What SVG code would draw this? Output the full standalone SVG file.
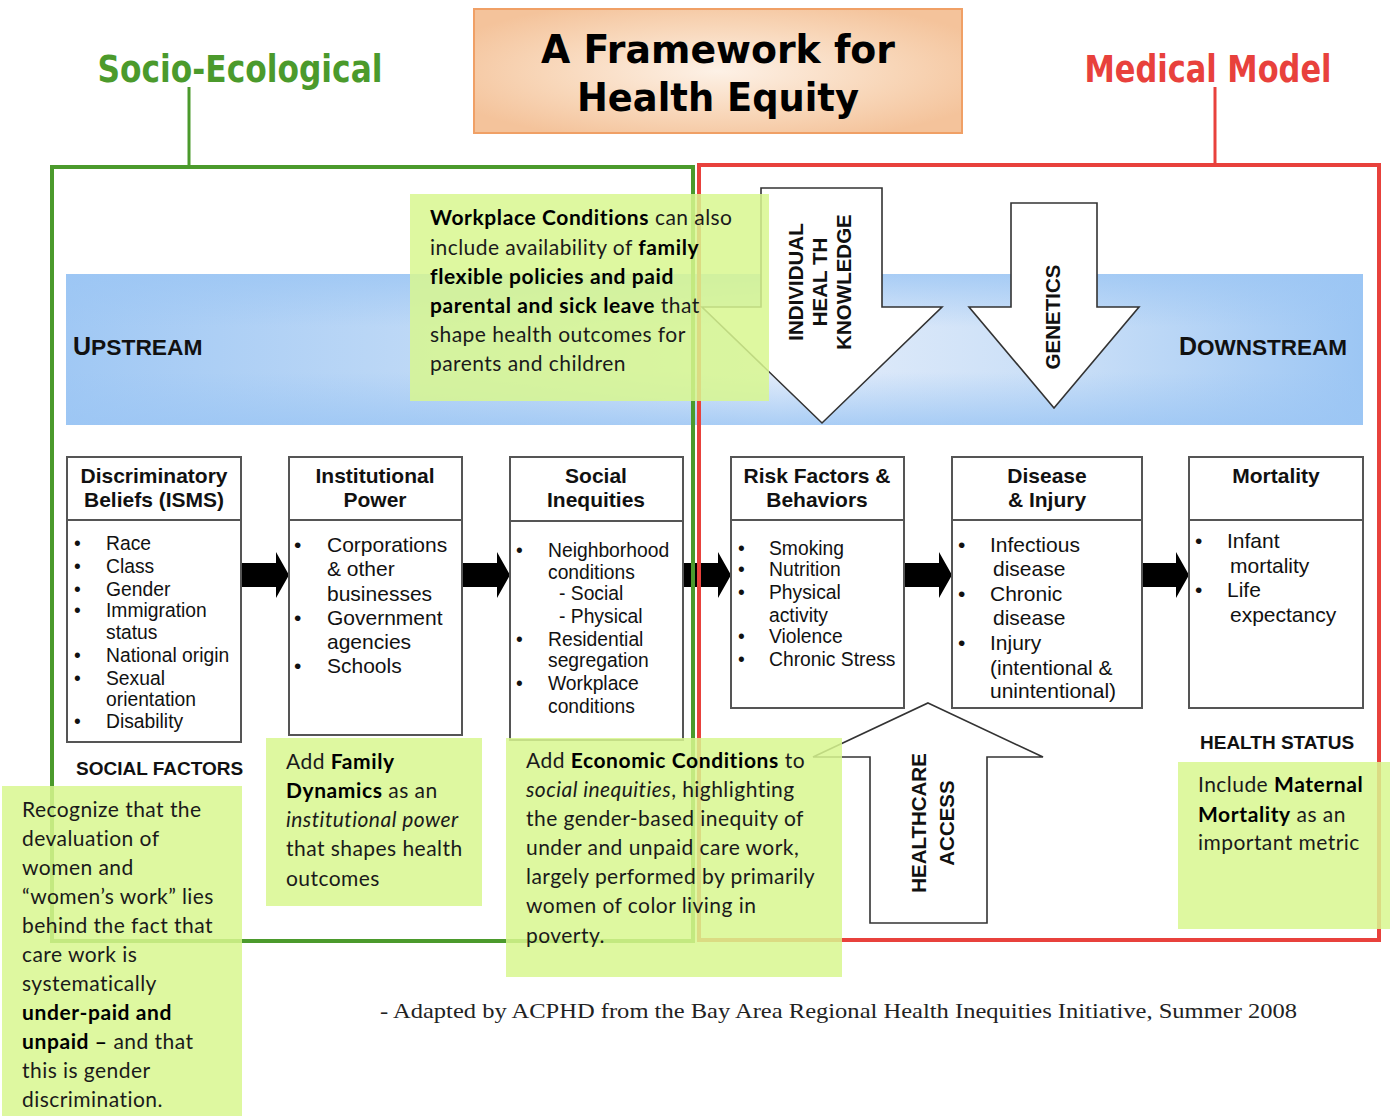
<svg xmlns="http://www.w3.org/2000/svg" width="1390" height="1116" viewBox="0 0 1390 1116">
<style>
.hdr{font-family:"Liberation Sans",Arial,sans-serif;font-weight:bold;font-size:21px;fill:#111;text-anchor:middle}
.li{font-family:"Liberation Sans",Arial,sans-serif;font-size:19.3px;fill:#111}
.lb{font-family:"Liberation Sans",Arial,sans-serif;font-size:21px;fill:#111}
.box{fill:#fff;stroke:#555;stroke-width:2}
.div{stroke:#555;stroke-width:2}
.barr{fill:#000}
.warr{fill:#fff;stroke:#333;stroke-width:1.6}
.vt{font-family:"Liberation Sans",Arial,sans-serif;font-weight:bold;font-size:20.5px;fill:#111;text-anchor:middle}
.cap{font-family:"Liberation Sans",Arial,sans-serif;font-weight:bold;font-size:19px;fill:#111}
.note{fill:rgb(216,247,143);opacity:0.85}
.nt{font-family:Lato,"Open Sans",sans-serif;font-size:21px;fill:#1a1a1a;letter-spacing:0.45px}
.b{font-weight:bold;fill:#000;letter-spacing:0.6px}
.i{font-style:italic}
</style>
<defs>
<linearGradient id="band" x1="0" y1="0" x2="1" y2="0">
<stop offset="0" stop-color="#a0c8f4"/>
<stop offset="0.35" stop-color="#c6ddf7"/>
<stop offset="0.55" stop-color="#e4edfa"/>
<stop offset="0.78" stop-color="#c8def7"/>
<stop offset="1" stop-color="#9cc6f4"/>
</linearGradient>
<linearGradient id="bandv" x1="0" y1="0" x2="0" y2="1">
<stop offset="0" stop-color="#9cc6f4" stop-opacity="0.8"/>
<stop offset="0.35" stop-color="#9cc6f4" stop-opacity="0"/>
<stop offset="0.65" stop-color="#9cc6f4" stop-opacity="0"/>
<stop offset="1" stop-color="#9cc6f4" stop-opacity="0.8"/>
</linearGradient>
<radialGradient id="title" cx="0.5" cy="0.5" r="0.6">
<stop offset="0" stop-color="#fdf1e6"/>
<stop offset="0.6" stop-color="#f8d6b8"/>
<stop offset="1" stop-color="#f4c39b"/>
</radialGradient>
</defs>

<g id="title-box">
<rect x="474" y="9" width="488" height="124" fill="url(#title)" stroke="#f0a066" stroke-width="2"/>
<text x="718" y="63" font-family="DejaVu Sans,sans-serif" font-weight="bold" font-size="39" text-anchor="middle" textLength="354" lengthAdjust="spacingAndGlyphs" fill="#000">A Framework for</text>
<text x="718" y="111" font-family="DejaVu Sans,sans-serif" font-weight="bold" font-size="39" text-anchor="middle" textLength="282" lengthAdjust="spacingAndGlyphs" fill="#000">Health Equity</text>
</g>

<g id="band-group">
<rect x="66" y="274" width="1297" height="151" fill="url(#band)"/>
<rect x="66" y="274" width="1297" height="151" fill="url(#bandv)"/>
<text x="73" y="355" font-family="Liberation Sans,Arial,sans-serif" font-weight="bold" fill="#111"><tspan font-size="25">U</tspan><tspan font-size="22.8">PSTREAM</tspan></text>
<text x="1179" y="355" font-family="Liberation Sans,Arial,sans-serif" font-weight="bold" fill="#111"><tspan font-size="25">D</tspan><tspan font-size="22.5">OWNSTREAM</tspan></text>
</g>

<g id="connectors">
<path class="barr" d="M241,563 H276 V552 L289,575 L276,598 V587 H241 Z"/>
<path class="barr" d="M462,563 H497 V552 L510,575 L497,598 V587 H462 Z"/>
<path class="barr" d="M683,563 H718 V552 L731,575 L718,598 V587 H683 Z"/>
<path class="barr" d="M904,563 H939 V552 L952,575 L939,598 V587 H904 Z"/>
<path class="barr" d="M1142,563 H1176 V552 L1189,575 L1176,598 V587 H1142 Z"/>
</g>

<g id="socio-ecological">
<text x="240" y="82" font-family="DejaVu Sans,sans-serif" font-weight="bold" font-size="37" text-anchor="middle" textLength="285" lengthAdjust="spacingAndGlyphs" fill="#4b9a2c">Socio-Ecological</text>
<line x1="189" y1="87" x2="189" y2="167" stroke="#4b9a2c" stroke-width="3"/>
<rect x="52" y="167" width="641" height="774" fill="none" stroke="#4b9a2c" stroke-width="4"/>
</g>

<g id="medical-model">
<text x="1208" y="82" font-family="DejaVu Sans,sans-serif" font-weight="bold" font-size="37" text-anchor="middle" textLength="247" lengthAdjust="spacingAndGlyphs" fill="#e8413c">Medical Model</text>
<line x1="1215" y1="87" x2="1215" y2="165" stroke="#e8413c" stroke-width="3"/>
<rect x="699" y="165" width="680" height="775" fill="none" stroke="#e8413c" stroke-width="4"/>
</g>

<g id="box-discriminatory">
<rect class="box" x="67" y="457" width="174" height="285"/>
<line class="div" x1="67" y1="520" x2="241" y2="520"/>
<text class="hdr" x="154" y="483">Discriminatory</text>
<text class="hdr" x="154" y="507">Beliefs (ISMS)</text>
<g class="li">
<text x="74" y="550">•</text><text x="106" y="550">Race</text>
<text x="74" y="573">•</text><text x="106" y="573">Class</text>
<text x="74" y="596">•</text><text x="106" y="596">Gender</text>
<text x="74" y="617">•</text><text x="106" y="617">Immigration</text>
<text x="106" y="639">status</text>
<text x="74" y="662">•</text><text x="106" y="662">National origin</text>
<text x="74" y="685">•</text><text x="106" y="685">Sexual</text>
<text x="106" y="706">orientation</text>
<text x="74" y="728">•</text><text x="106" y="728">Disability</text>
</g>
</g>

<g id="box-institutional">
<rect class="box" x="289" y="457" width="173" height="278"/>
<line class="div" x1="289" y1="520" x2="462" y2="520"/>
<text class="hdr" x="375" y="483">Institutional</text>
<text class="hdr" x="375" y="507">Power</text>
<g class="lb">
<text x="294" y="552">•</text><text x="327" y="552">Corporations</text>
<text x="327" y="576">&amp; other</text>
<text x="327" y="601">businesses</text>
<text x="294" y="625">•</text><text x="327" y="625">Government</text>
<text x="327" y="649">agencies</text>
<text x="294" y="673">•</text><text x="327" y="673">Schools</text>
</g>
</g>

<g id="box-social-inequities">
<rect class="box" x="510" y="457" width="173" height="283"/>
<line class="div" x1="510" y1="521" x2="683" y2="521"/>
<text class="hdr" x="596" y="483">Social</text>
<text class="hdr" x="596" y="507">Inequities</text>
<g class="li">
<text x="516" y="557">•</text><text x="548" y="557">Neighborhood</text>
<text x="548" y="579">conditions</text>
<text x="559" y="600">- Social</text>
<text x="559" y="623">- Physical</text>
<text x="516" y="646">•</text><text x="548" y="646">Residential</text>
<text x="548" y="667">segregation</text>
<text x="516" y="690">•</text><text x="548" y="690">Workplace</text>
<text x="548" y="713">conditions</text>
</g>
</g>

<g id="box-risk-factors">
<rect class="box" x="731" y="457" width="173" height="251"/>
<line class="div" x1="731" y1="520" x2="904" y2="520"/>
<text class="hdr" x="817" y="483">Risk Factors &amp;</text>
<text class="hdr" x="817" y="507">Behaviors</text>
<g class="li">
<text x="738" y="555">•</text><text x="769" y="555">Smoking</text>
<text x="738" y="576">•</text><text x="769" y="576">Nutrition</text>
<text x="738" y="599">•</text><text x="769" y="599">Physical</text>
<text x="769" y="622">activity</text>
<text x="738" y="643">•</text><text x="769" y="643">Violence</text>
<text x="738" y="666">•</text><text x="769" y="666">Chronic Stress</text>
</g>
</g>

<g id="box-disease-injury">
<rect class="box" x="952" y="457" width="190" height="251"/>
<line class="div" x1="952" y1="520" x2="1142" y2="520"/>
<text class="hdr" x="1047" y="483">Disease</text>
<text class="hdr" x="1047" y="507">&amp; Injury</text>
<g class="lb">
<text x="958" y="552">•</text><text x="990" y="552">Infectious</text>
<text x="993" y="576">disease</text>
<text x="958" y="601">•</text><text x="990" y="601">Chronic</text>
<text x="993" y="625">disease</text>
<text x="958" y="650">•</text><text x="990" y="650">Injury</text>
<text x="990" y="675">(intentional &amp;</text>
<text x="990" y="698">unintentional)</text>
</g>
</g>

<g id="box-mortality">
<rect class="box" x="1189" y="457" width="174" height="251"/>
<line class="div" x1="1189" y1="520" x2="1363" y2="520"/>
<text class="hdr" x="1276" y="483">Mortality</text>
<g class="lb">
<text x="1195" y="548">•</text><text x="1227" y="548">Infant</text>
<text x="1230" y="573">mortality</text>
<text x="1195" y="597">•</text><text x="1227" y="597">Life</text>
<text x="1230" y="622">expectancy</text>
</g>
</g>

<g id="arrow-individual-health-knowledge">
<path class="warr" d="M761,188 H882 V307 H942 L822,423 L702,307 H761 Z"/>
<text class="vt" transform="translate(821,282) rotate(-90)"><tspan x="0" y="-18">INDIVIDUAL</tspan><tspan x="0" y="6">HEAL TH</tspan><tspan x="0" y="30">KNOWLEDGE</tspan></text>
</g>

<g id="arrow-genetics">
<path class="warr" d="M1011,203 H1097 V307 H1139 L1054,408 L969,307 H1011 Z"/>
<text class="vt" transform="translate(1053,317) rotate(-90)"><tspan x="0" y="7">GENETICS</tspan></text>
</g>

<g id="arrow-healthcare-access">
<path class="warr" d="M928,703 L1043,757 H987 V923 H870 V757 H813 Z"/>
<text class="vt" transform="translate(933,823) rotate(-90)"><tspan x="0" y="-7">HEALTHCARE</tspan><tspan x="0" y="21">ACCESS</tspan></text>
</g>

<g id="label-social-factors"><text class="cap" x="76" y="775">SOCIAL FACTORS</text></g>
<g id="label-health-status"><text class="cap" x="1200" y="749">HEALTH STATUS</text></g>

<g id="footer">
<text x="380" y="1018" font-family="Liberation Serif,Times New Roman,serif" font-size="22" textLength="917" lengthAdjust="spacingAndGlyphs" fill="#222">- Adapted by ACPHD from the Bay Area Regional Health Inequities Initiative, Summer 2008</text>
</g>

<g id="note-workplace">
<rect class="note" x="410" y="194" width="359" height="207"/>
<g class="nt">
<text x="430" y="225"><tspan class="b">Workplace Conditions</tspan> can also</text>
<text x="430" y="255">include availability of <tspan class="b">family</tspan></text>
<text x="430" y="284"><tspan class="b">flexible policies and paid</tspan></text>
<text x="430" y="313"><tspan class="b">parental and sick leave</tspan> that</text>
<text x="430" y="342">shape health outcomes for</text>
<text x="430" y="371">parents and children</text>
</g>
</g>

<g id="note-family-dynamics">
<rect class="note" x="266" y="738" width="216" height="168"/>
<g class="nt">
<text x="286" y="769">Add <tspan class="b">Family</tspan></text>
<text x="286" y="798"><tspan class="b">Dynamics</tspan> as an</text>
<text x="286" y="827"><tspan class="i">institutional power</tspan></text>
<text x="286" y="856">that shapes health</text>
<text x="286" y="886">outcomes</text>
</g>
</g>

<g id="note-recognize">
<rect class="note" x="2" y="786" width="240" height="330"/>
<g class="nt">
<text x="22" y="817">Recognize that the</text>
<text x="22" y="846">devaluation of</text>
<text x="22" y="875">women and</text>
<text x="22" y="904">“women’s work” lies</text>
<text x="22" y="933">behind the fact that</text>
<text x="22" y="962">care work is</text>
<text x="22" y="991">systematically</text>
<text x="22" y="1020"><tspan class="b">under-paid and</tspan></text>
<text x="22" y="1049"><tspan class="b">unpaid –</tspan> and that</text>
<text x="22" y="1078">this is gender</text>
<text x="22" y="1107">discrimination.</text>
</g>
</g>

<g id="note-economic">
<rect class="note" x="506" y="738" width="336" height="239"/>
<g class="nt">
<text x="526" y="768">Add <tspan class="b">Economic Conditions</tspan> to</text>
<text x="526" y="797"><tspan class="i">social inequities</tspan>, highlighting</text>
<text x="526" y="826">the gender-based inequity of</text>
<text x="526" y="855">under and unpaid care work,</text>
<text x="526" y="884">largely performed by primarily</text>
<text x="526" y="913">women of color living in</text>
<text x="526" y="943">poverty.</text>
</g>
</g>

<g id="note-maternal">
<rect class="note" x="1178" y="762" width="212" height="167"/>
<g class="nt">
<text x="1198" y="792">Include <tspan class="b">Maternal</tspan></text>
<text x="1198" y="822"><tspan class="b">Mortality</tspan> as an</text>
<text x="1198" y="850">important metric</text>
</g>
</g>
</svg>
